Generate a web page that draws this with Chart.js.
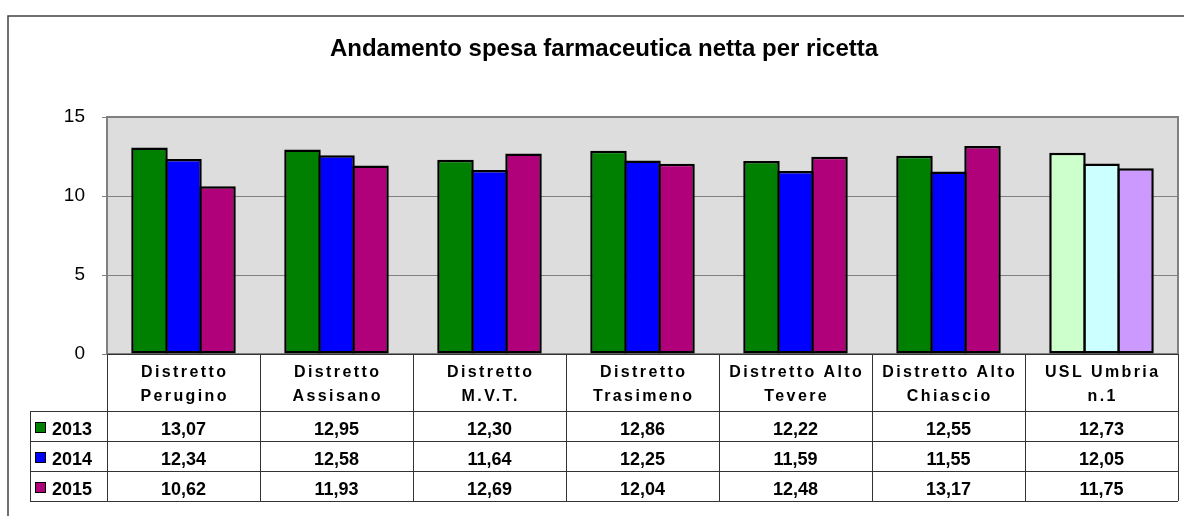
<!DOCTYPE html>
<html>
<head>
<meta charset="utf-8">
<title>Andamento spesa farmaceutica netta per ricetta</title>
<script src="https://cdn.jsdelivr.net/npm/chart.js@4.4.1/dist/chart.umd.min.js"></script>
<style>
    html, body { margin: 0; padding: 0; background: #ffffff; }
    #wrap { width: 1184px; height: 516px; position: relative; }
</style>
</head>
<body>
<div id="wrap"><canvas id="spesaChart" width="1184" height="516"></canvas></div>
<script>
// Dati
const titleText = 'Andamento spesa farmaceutica netta per ricetta';
const categories = [
    ['Distretto', 'Perugino'],
    ['Distretto', 'Assisano'],
    ['Distretto', 'M.V.T.'],
    ['Distretto', 'Trasimeno'],
    ['Distretto Alto', 'Tevere'],
    ['Distretto Alto', 'Chiascio'],
    ['USL Umbria', 'n.1']
];
const seriesNames = ['2013', '2014', '2015'];
const values2013 = [13.07, 12.95, 12.30, 12.86, 12.22, 12.55, 12.73];
const values2014 = [12.34, 12.58, 11.64, 12.25, 11.59, 11.55, 12.05];
const values2015 = [10.62, 11.93, 12.69, 12.04, 12.48, 13.17, 11.75];
const yTicks = [0, 5, 10, 15];

// Colori (l'ultima categoria usa tinte chiare)
const mainColors = ['#008000', '#0000FF', '#B0007A'];
const lightColors = ['#CCFFCC', '#CCFFFF', '#CC99FF'];

const FONT = "'Liberation Sans', Arial, sans-serif";

function barColors(seriesIndex) {
    return categories.map((c, i) => i === categories.length - 1 ? lightColors[seriesIndex] : mainColors[seriesIndex]);
}

function formatValue(v) {
    return v.toFixed(2).replace('.', ',');
}

// Sfondo grigio e bordo dell'area del grafico
const plotAreaPlugin = {
    id: 'plotArea',
    beforeDraw(chart) {
        const ctx = chart.ctx;
        const a = chart.chartArea;
        ctx.save();
        ctx.fillStyle = '#DDDDDD';
        ctx.fillRect(a.left, a.top, a.right - a.left, a.bottom - a.top);
        ctx.restore();
    },
    beforeDatasetsDraw(chart) {
        const ctx = chart.ctx;
        const a = chart.chartArea;
        ctx.save();
        ctx.strokeStyle = '#808080';
        ctx.lineWidth = 2;
        ctx.strokeRect(a.left, a.top, a.right - a.left, a.bottom - a.top);
        ctx.restore();
    }
};

// Titolo, cornice esterna e tabella dati sotto l'asse
const tablePlugin = {
    id: 'dataTable',
    afterDraw(chart) {
        const ctx = chart.ctx;
        const a = chart.chartArea;
        const xScale = chart.scales.x;
        const colW = (a.right - a.left) / categories.length;
        const headerBottom = a.bottom + 57;
        const rowH = 30;
        const legendLeft = 30;
        const tableBottom = headerBottom + rowH * seriesNames.length;

        ctx.save();

        // cornice esterna
        ctx.strokeStyle = '#404040';
        ctx.lineWidth = 1.5;
        ctx.beginPath();
        ctx.moveTo(8, 516);
        ctx.lineTo(8, 16);
        ctx.lineTo(1184, 16);
        ctx.stroke();

        // titolo
        ctx.fillStyle = '#000';
        ctx.font = 'bold 24px ' + FONT;
        ctx.textAlign = 'center';
        ctx.textBaseline = 'alphabetic';
        ctx.fillText(titleText, 604, 56);

        // linee della tabella
        ctx.strokeStyle = '#333';
        ctx.lineWidth = 1;
        ctx.beginPath();
        for (let i = 0; i <= categories.length; i++) {
            const x = Math.round(a.left + i * colW) + 0.5;
            ctx.moveTo(x, a.bottom);
            ctx.lineTo(x, tableBottom);
        }
        ctx.moveTo(legendLeft + 0.5, headerBottom);
        ctx.lineTo(legendLeft + 0.5, tableBottom);
        ctx.moveTo(a.left, a.bottom + 0.5);
        ctx.lineTo(a.right, a.bottom + 0.5);
        for (let r = 0; r <= seriesNames.length; r++) {
            const y = headerBottom + r * rowH + 0.5;
            ctx.moveTo(legendLeft, y);
            ctx.lineTo(a.right, y);
        }
        ctx.stroke();

        // intestazioni di categoria
        ctx.fillStyle = '#000';
        ctx.font = 'bold 16px ' + FONT;
        ctx.letterSpacing = '2.4px';
        ctx.textAlign = 'center';
        categories.forEach((lines, i) => {
            const cx = xScale.getPixelForValue(i) + 1.2;
            lines.forEach((line, j) => {
                ctx.fillText(line, cx, a.bottom + 23 + j * 24);
            });
        });
        ctx.letterSpacing = '0px';

        // righe con valori e legenda
        const allValues = [values2013, values2014, values2015];
        ctx.font = 'bold 18px ' + FONT;
        seriesNames.forEach((name, r) => {
            const top = headerBottom + r * rowH;
            const baseline = top + 24;
            // quadratino legenda
            ctx.fillStyle = mainColors[r];
            ctx.fillRect(35, top + 11, 11, 11);
            ctx.strokeStyle = '#000';
            ctx.strokeRect(35.5, top + 11.5, 10, 10);
            ctx.fillStyle = '#000';
            ctx.textAlign = 'left';
            ctx.fillText(name, 52, baseline);
            ctx.textAlign = 'center';
            allValues[r].forEach((v, i) => {
                ctx.fillText(formatValue(v), xScale.getPixelForValue(i), baseline);
            });
        });

        ctx.restore();
    }
};

function initSpesaChart() {
    const ctx = document.getElementById('spesaChart').getContext('2d');
    const allValues = [values2013, values2014, values2015];
    new Chart(ctx, {
        type: 'bar',
        data: {
            labels: categories,
            datasets: seriesNames.map((name, s) => ({
                label: name,
                data: allValues[s],
                backgroundColor: barColors(s),
                borderColor: '#000',
                borderWidth: 2.5,
                borderSkipped: false,
                categoryPercentage: 0.667,
                barPercentage: 1.073
            }))
        },
        options: {
            responsive: false,
            animation: false,
            layout: {
                padding: { left: 0, top: 117, right: 6, bottom: 162 }
            },
            plugins: {
                legend: { display: false },
                title: { display: false },
                tooltip: { enabled: false }
            },
            scales: {
                x: {
                    display: false
                },
                y: {
                    min: yTicks[0],
                    max: yTicks[yTicks.length - 1],
                    afterFit(scale) {
                        scale.width = 107;
                    },
                    afterBuildTicks(scale) {
                        scale.ticks = yTicks.map(v => ({ value: v }));
                    },
                    ticks: {
                        color: '#000',
                        padding: 17,
                        font: { family: FONT, size: 19 }
                    },
                    grid: {
                        color: '#808080',
                        lineWidth: 1,
                        tickLength: 5,
                        tickColor: '#808080'
                    },
                    border: { color: '#808080', width: 1 }
                }
            }
        },
        plugins: [plotAreaPlugin, tablePlugin]
    });
}

document.addEventListener('DOMContentLoaded', function() {
    initSpesaChart();
});
</script>
</body>
</html>
